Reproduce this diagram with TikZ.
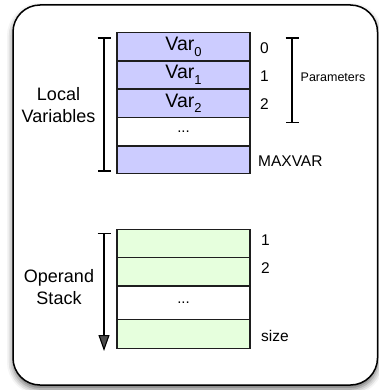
\documentclass[tikz,border=0pt]{standalone}
\usepackage{fontspec}
\setmainfont{Liberation Sans}
\usetikzlibrary{arrows.meta,shadows.blur}
\definecolor{varblue}{RGB}{204,204,255}
\definecolor{stkgreen}{RGB}{230,255,221}
\definecolor{edge}{RGB}{30,30,30}
\newcommand{\lowsub}[1]{\raisebox{-5.5pt}{\fontsize{13}{14}\selectfont #1}}
\tikzset{
  rowbox/.style={draw=edge, line width=1.2pt, minimum width=133pt, inner sep=0pt, anchor=center, font=\fontsize{19.5}{22}\selectfont},
  idxlabel/.style={anchor=west, inner sep=0pt, font=\fontsize{15.5}{18}\selectfont},
  sidelabel/.style={align=center, inner sep=0pt, font=\fontsize{18}{22}\selectfont},
  bracket/.style={line width=1.1pt, {Bar[width=13pt]}-{Bar[width=13pt]}},
  stackarrow/.style={line width=1.1pt, {Bar[width=13pt]}-{Triangle[width=11pt,length=16pt]}},
}
\begin{document}
\begin{tikzpicture}[x=1pt,y=-1pt]
\useasboundingbox (0,0) rectangle (379,390);
% frame
\draw[line width=1.5pt, rounded corners=27pt, fill=white,
  blur shadow={shadow xshift=0pt, shadow yshift=-4pt, shadow blur radius=6pt, shadow opacity=60}]
  (13,5) rectangle (377.5,385);
% local variables
\node[rowbox, fill=varblue, minimum height=28.5pt] (v0) at (183.5,46.75) {Var\lowsub{0}};
\node[rowbox, fill=varblue, minimum height=28pt] (v1) at (183.5,75) {Var\lowsub{1}};
\node[rowbox, fill=varblue, minimum height=28.5pt] (v2) at (183.5,103.25) {Var\lowsub{2}};
\node[rowbox, fill=white, minimum height=28.5pt, font=\fontsize{15}{18}\selectfont] (vd) at (183.5,131.75) {...};
\node[rowbox, fill=varblue, minimum height=27.5pt] (vm) at (183.5,159.75) {};
\node[idxlabel] (i0) at (260,48) {0};
\node[idxlabel] (i1) at (260,76) {1};
\node[idxlabel] (i2) at (260,104) {2};
\node[idxlabel] (im) at (258,161) {MAXVAR};
% parameters bracket
\coordinate (pT) at (292,37.5);
\coordinate (pB) at (292,123.5);
\draw[bracket] (pT) -- (pB);
\node[anchor=west, inner sep=0pt, font=\fontsize{12.5}{15}\selectfont] (par) at (300.5,77) {Parameters};
% local variables bracket
\coordinate (lT) at (104,37.5);
\coordinate (lB) at (104,171.5);
\draw[bracket] (lT) -- (lB);
\node[sidelabel] (lv) at (58.5,105) {Local\\Variables};
% operand stack
\node[rowbox, fill=stkgreen, minimum height=28.5pt] (s1) at (183.5,243.5) {};
\node[rowbox, fill=stkgreen, minimum height=28.5pt] (s2) at (183.5,272) {};
\node[rowbox, fill=white, minimum height=34pt, font=\fontsize{15}{18}\selectfont] (sd) at (183.5,303) {...};
\node[rowbox, fill=stkgreen, minimum height=28.5pt] (ss) at (183.5,334) {};
\node[idxlabel] (j1) at (261,240.5) {1};
\node[idxlabel] (j2) at (261,268.5) {2};
\node[idxlabel] (js) at (261,335.5) {size};
\coordinate (aT) at (104,232.5);
\coordinate (aB) at (104,351);
\draw[stackarrow] (aT) -- (aB);
\node[sidelabel] (os) at (59,287) {Operand\\Stack};
\end{tikzpicture}
\end{document}
